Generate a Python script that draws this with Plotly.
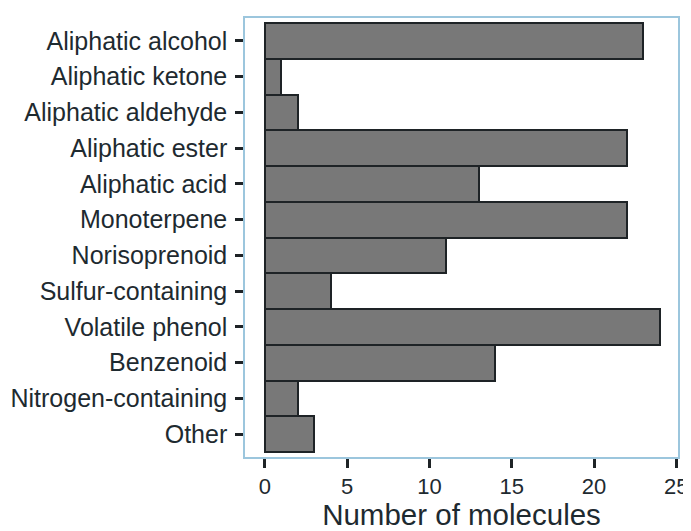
import plotly.graph_objects as go

categories = [
    "Aliphatic alcohol", "Aliphatic ketone", "Aliphatic aldehyde", "Aliphatic ester",
    "Aliphatic acid", "Monoterpene", "Norisoprenoid", "Sulfur-containing",
    "Volatile phenol", "Benzenoid", "Nitrogen-containing", "Other",
]
counts = [23, 1, 2, 22, 13, 22, 11, 4, 24, 14, 2, 3]
x_ticks = [0, 5, 10, 15, 20, 25]

fig = go.Figure(go.Bar(
    x=counts,
    y=categories,
    orientation="h",
    width=1,
    marker=dict(color="#787878", line=dict(color="#1e2326", width=2)),
))

# page body adds an 8px offset, so the figure is sized a bit smaller
fig.update_layout(
    width=683, height=523,
    margin=dict(l=237, r=13, t=10, b=74),
    plot_bgcolor="white", paper_bgcolor="white",
    font=dict(family="Liberation Sans, Arial, sans-serif", color="#1e2a30"),
    showlegend=False,
    bargap=0,
)
fig.update_xaxes(
    range=[-1.2, 25.1], tickvals=x_ticks, showgrid=False, zeroline=False,
    showline=True, linecolor="#9cc6dd", linewidth=1.5, mirror=True,
    ticks="outside", ticklen=9, tickwidth=2.5, tickcolor="#1e2326",
    tickfont=dict(size=22), automargin=False, ticklabeloverflow="allow",
    title=dict(text="Number of molecules", font=dict(size=29.5), standoff=0),
)
fig.update_yaxes(
    categoryorder="array", categoryarray=categories[::-1],
    range=[-0.64, 11.64], showgrid=False, zeroline=False,
    showline=True, linecolor="#9cc6dd", linewidth=1.5, mirror=True,
    ticks="outside", ticklen=8, tickwidth=2.5, tickcolor="#1e2326",
    tickfont=dict(size=25), ticklabelstandoff=3, automargin=False,
)

fig.write_html("out.html")
